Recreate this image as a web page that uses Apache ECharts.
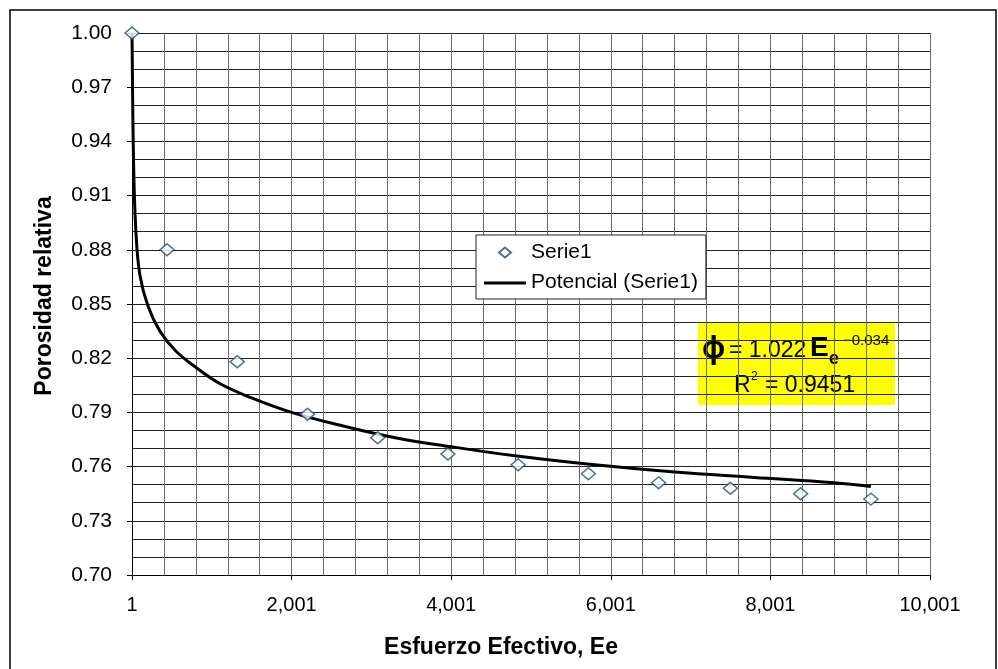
<!DOCTYPE html>
<html>
<head>
<meta charset="utf-8">
<script src="https://cdn.jsdelivr.net/npm/echarts@6/dist/echarts.min.js"></script>
<style>
  html, body { margin: 0; padding: 0; background: #fff; }
  #main { width: 998px; height: 669px; }
</style>
</head>
<body>
<div id="main"></div>
<script>
// measured points (Serie1)
var esfuerzo = [1, 440, 1320, 2200, 3080, 3960, 4840, 5720, 6600, 7500, 8380, 9260];
var porosidad = [1.000, 0.880, 0.818, 0.789, 0.776, 0.767, 0.761, 0.756, 0.751, 0.748, 0.745, 0.742];

// trend line (Potencial (Serie1))
var trendX = [1, 20, 50, 100, 200, 350, 550, 800, 1100, 1500, 2000, 2600, 3300, 4000, 4800, 5800, 6800, 7800, 8800, 9260];
var trendY = [1.000, 0.930, 0.890, 0.866, 0.849, 0.835, 0.824, 0.815, 0.806, 0.798, 0.790, 0.783, 0.776, 0.771, 0.766, 0.761, 0.757, 0.754, 0.751, 0.749];

// axis tick labels
var yTicks = ['0.70', '0.73', '0.76', '0.79', '0.82', '0.85', '0.88', '0.91', '0.94', '0.97', '1.00'];

var pts = esfuerzo.map(function (x, i) { return [x, porosidad[i]]; });
var trend = trendX.map(function (x, i) { return [x, trendY[i]]; });

var font = 'Liberation Sans, Arial, sans-serif';

var myChart = echarts.init(document.getElementById('main'));
myChart.setOption({
	animation: false,
	backgroundColor: '#fff',
	grid: { left: 132, top: 33, right: 68, bottom: 94 },
	xAxis: {
		type: 'value',
		min: 1,
		max: 10001,
		interval: 2000,
		name: 'Esfuerzo Efectivo, Ee',
		nameLocation: 'middle',
		nameGap: 61,
		nameTextStyle: { fontFamily: font, fontWeight: 'bold', fontSize: 23, color: '#000', padding: [0, 60, 0, 0] },
		axisLine: { show: true, lineStyle: { color: '#000', width: 1 } },
		axisTick: { show: true, length: 5, lineStyle: { color: '#000' } },
		axisLabel: {
			fontFamily: font, fontSize: 20, color: '#000', margin: 20,
			formatter: function (v) { return v.toLocaleString('en-US'); }
		},
		splitLine: { show: true, lineStyle: { color: '#6a6a6a', width: 1 } },
		minorTick: { show: false, splitNumber: 5 },
		minorSplitLine: { show: true, lineStyle: { color: '#6a6a6a', width: 1 } }
	},
	yAxis: {
		type: 'value',
		min: 0.70,
		max: 1.00,
		interval: 0.03,
		name: 'Porosidad relativa',
		nameLocation: 'middle',
		nameGap: 76,
		nameTextStyle: { fontFamily: font, fontWeight: 'bold', fontSize: 23, color: '#000', padding: [0, 0, 0, 16] },
		axisLine: { show: true, lineStyle: { color: '#000', width: 1 } },
		axisTick: { show: true, length: 5, lineStyle: { color: '#000' } },
		axisLabel: {
			fontFamily: font, fontSize: 21, color: '#000', margin: 20,
			formatter: function (v) {
				var s = v.toFixed(2);
				return yTicks.indexOf(s) >= 0 ? s : '';
			}
		},
		splitLine: { show: true, lineStyle: { color: '#222', width: 1 } },
		minorTick: { show: false, splitNumber: 3 },
		minorSplitLine: { show: true, lineStyle: { color: '#222', width: 1 } }
	},
	legend: {
		orient: 'vertical',
		left: 476,
		top: 235,
		backgroundColor: '#fff',
		borderColor: '#222',
		borderWidth: 1,
		padding: [7, 8, 6, 7],
		itemGap: 9,
		itemWidth: 42,
		itemHeight: 12,
		textStyle: { fontFamily: font, fontSize: 21, color: '#000' },
		data: [
			{ name: 'Serie1', icon: 'path://M0,0 M42,12 M21,1 L27,6 L21,11 L15,6 Z' },
			{ name: 'Potencial (Serie1)', icon: 'path://M0,0 M42,12 M0,5 L42,5 L42,8 L0,8 Z' }
		]
	},
	graphic: [
		{
			type: 'rect', silent: true,
			shape: { x: 10, y: 10, width: 986, height: 700 },
			style: { fill: null, stroke: '#000', lineWidth: 1.5 }
		},
		{
			type: 'group', left: 698, top: 322, z: 100,
			children: [
				{ type: 'rect', shape: { x: 0, y: 0, width: 197, height: 83 }, style: { fill: '#ffff00' } },
				{ type: 'text', x: 4, y: 12, style: { text: 'ϕ', font: 'bold 31px ' + font, fill: '#000' } },
				{ type: 'text', x: 31, y: 17, style: { text: '= 1.022', font: '23px ' + font, fill: '#000' } },
				{ type: 'text', x: 112, y: 12, style: { text: 'E', font: 'bold 28px ' + font, fill: '#000' } },
				{ type: 'text', x: 131, y: 28, style: { text: 'e', font: 'bold 18px ' + font, fill: '#000' } },
				{ type: 'text', x: 145, y: 11, style: { text: '−0.034', font: '15px ' + font, fill: '#000' } },
				{ type: 'text', x: 36, y: 52, style: { text: 'R', font: '23px ' + font, fill: '#000' } },
				{ type: 'text', x: 53, y: 49, style: { text: '2', font: '12px ' + font, fill: '#000' } },
				{ type: 'text', x: 67, y: 52, style: { text: '= 0.9451', font: '23px ' + font, fill: '#000' } }
			]
		}
	],
	series: [
		{
			name: 'Potencial (Serie1)',
			type: 'line',
			data: trend,
			showSymbol: false,
			symbol: 'none',
			smooth: 0.4,
			lineStyle: { color: '#000', width: 3 },
			itemStyle: { color: '#000' },
			z: 2
		},
		{
			name: 'Serie1',
			type: 'scatter',
			data: pts,
			symbol: 'diamond',
			symbolSize: [14, 12],
			itemStyle: { color: '#fff', borderColor: '#1f4e79', borderWidth: 1.5 },
			z: 3
		}
	]
});
</script>
</body>
</html>
